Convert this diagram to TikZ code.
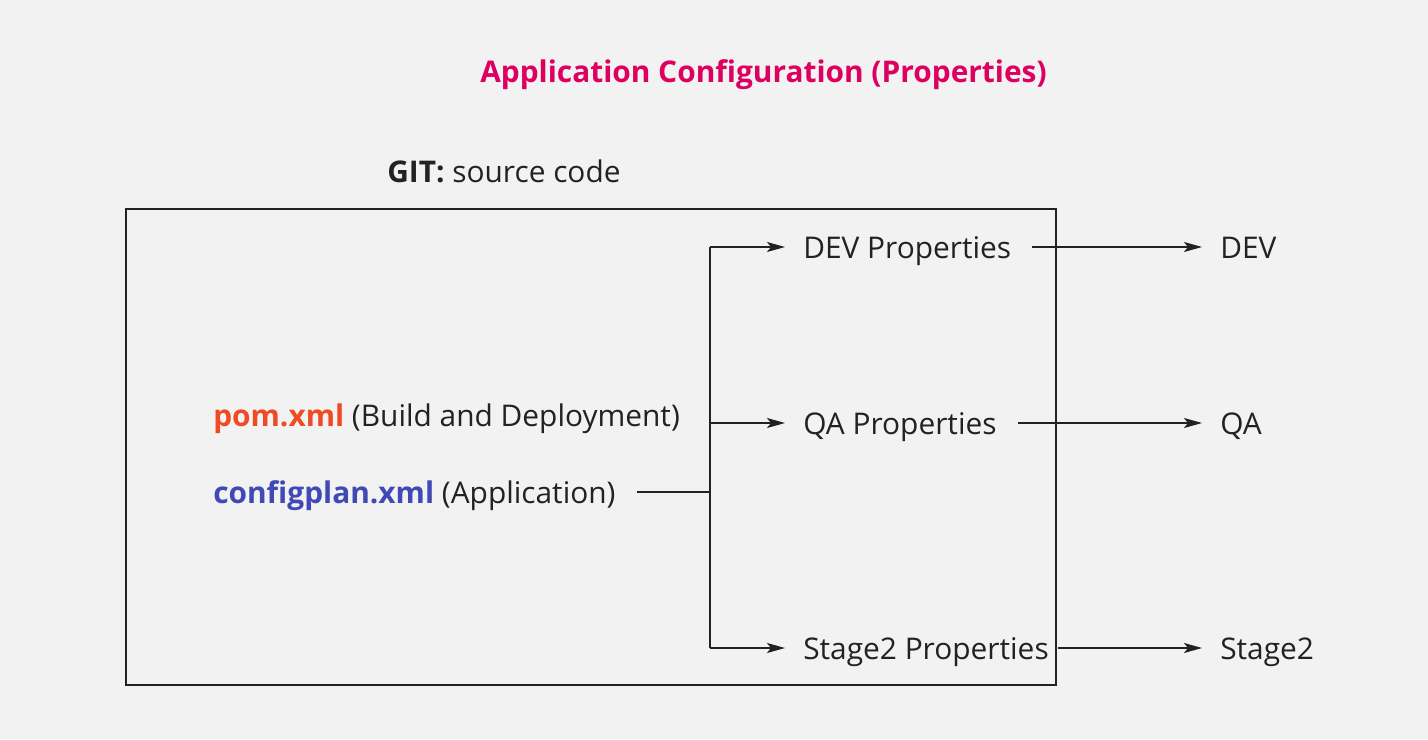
\documentclass[tikz,border=0pt]{standalone}
\usepackage{fontspec}
\setmainfont{Open Sans}
\usetikzlibrary{arrows.meta}
\definecolor{bgc}{HTML}{F2F2F2}
\definecolor{titlec}{HTML}{DE0060}
\definecolor{pomc}{HTML}{F04A24}
\definecolor{cfgc}{HTML}{4049B5}
\definecolor{inkc}{HTML}{222222}
\tikzset{
  lbl/.style={anchor=base west, inner sep=0pt, text=inkc, font=\fontsize{22.4}{26}\selectfont},
  conn/.style={draw=inkc, line width=1.1pt},
  arr/.style={conn, -{Stealth[length=13.5pt,width=7.5pt,inset=3pt]}},
}
\begin{document}
\begin{tikzpicture}[x=0.75pt,y=-0.75pt]
\fill[bgc] (0,0) rectangle (1428,739);
\useasboundingbox (0,0) rectangle (1428,739);
\node[anchor=base, text=titlec, font=\fontsize{22.4}{26}\selectfont\bfseries, inner sep=0pt] (title) at (763.5,82) {Application Configuration (Properties)};
\node[lbl] (git) at (387,182) {\textbf{GIT:} source code};
\draw[draw=inkc, line width=1.5pt] (126,209) rectangle (1056,685);
\node[lbl] (pom) at (213,426) {\textcolor{pomc}{\textbf{pom.xml}} (Build and Deployment)};
\node[lbl] (cfg) at (213,503) {\textcolor{cfgc}{\textbf{configplan.xml}} (Application)};
\coordinate (cs) at (637,492);
\coordinate (j) at (710,492);
\coordinate (jt) at (710,247);
\coordinate (jm) at (710,423);
\coordinate (jb) at (710,648);
\node[lbl] (devp) at (803,258) {DEV Properties};
\node[lbl] (qap) at (803,434) {QA Properties};
\node[lbl] (stp) at (803,659) {Stage2 Properties};
\node[lbl] (dev) at (1220,258) {DEV};
\node[lbl] (qa) at (1220,434) {QA};
\node[lbl] (st) at (1220,659) {Stage2};
\coordinate (devpin) at (785,247);
\coordinate (qapin) at (785,423);
\coordinate (stpin) at (785,648);
\coordinate (devpout) at (1032,247);
\coordinate (qapout) at (1018,423);
\coordinate (stpout) at (1058,648);
\coordinate (devin) at (1202,247);
\coordinate (qain) at (1202,423);
\coordinate (stin) at (1202,648);
\draw[conn] (cs) -- (j);
\draw[conn] (jt) -- (jb);
\draw[arr] (jt) -- (devpin);
\draw[arr] (jm) -- (qapin);
\draw[arr] (jb) -- (stpin);
\draw[arr] (devpout) -- (devin);
\draw[arr] (qapout) -- (qain);
\draw[arr] (stpout) -- (stin);
\end{tikzpicture}
\end{document}
